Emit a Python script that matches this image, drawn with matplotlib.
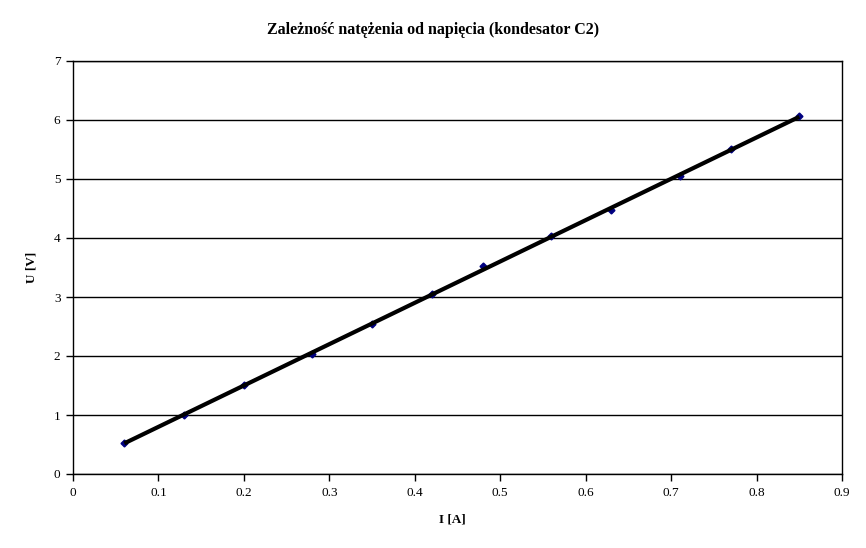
import numpy as np
import matplotlib
matplotlib.use('Agg')
import matplotlib.pyplot as plt

plt.rcParams['font.family'] = ['Liberation Serif', 'DejaVu Serif']

current_a = [0.06, 0.13, 0.20, 0.28, 0.35, 0.42, 0.48, 0.56, 0.63, 0.71, 0.77, 0.85]
voltage_v = [0.52, 1.00, 1.51, 2.03, 2.55, 3.05, 3.52, 4.03, 4.48, 5.05, 5.50, 6.06]
x_ticks = [0, 0.1, 0.2, 0.3, 0.4, 0.5, 0.6, 0.7, 0.8, 0.9]
y_ticks = [0, 1, 2, 3, 4, 5, 6, 7]


def main():
    fig = plt.figure(figsize=(8.66, 5.48), dpi=100, facecolor='white')
    ax = fig.add_axes([73 / 866, 1 - 474 / 548, (842 - 73) / 866, (474 - 61) / 548])

    x = np.array(current_a)
    y = np.array(voltage_v)
    ax.plot(x, y, linestyle='none', marker='D', markersize=3.5,
            color='#000080', zorder=3)
    # linear trendline over the data range
    slope, icpt = np.polyfit(x, y, 1)
    xs = np.array([x.min(), x.max()])
    ax.plot(xs, slope * xs + icpt, color='black', linewidth=3,
            solid_capstyle='butt', zorder=4)

    ax.set_xlim(0, 0.9)
    ax.set_ylim(0, 7)
    ax.set_xticks(x_ticks)
    ax.set_xticklabels([f'{t:g}' for t in x_ticks])
    ax.set_yticks(y_ticks)
    ax.yaxis.grid(True, color='black', linewidth=1)
    ax.set_axisbelow(True)
    for s in ax.spines.values():
        s.set_linewidth(1)
        s.set_color('black')
    ax.tick_params(direction='out', length=5, width=1, labelsize=9.5,
                   pad=4)

    fig.text(0.5, 1 - 30 / 548, 'Zależność natężenia od napięcia (kondesator C2)',
             ha='center', va='center', fontsize=11.5, fontweight='bold')
    ax.set_xlabel('I [A]', fontsize=9.5, fontweight='bold')
    ax.set_ylabel('U [V]', fontsize=9.5, fontweight='bold')
    ax.xaxis.set_label_coords((452 - 73) / (842 - 73), -40 / 413)
    ax.yaxis.set_label_coords(-(73 - 38) / (842 - 73), 0.5)

    fig.savefig('out.png', dpi=100, facecolor='white')


if __name__ == '__main__':
    main()
